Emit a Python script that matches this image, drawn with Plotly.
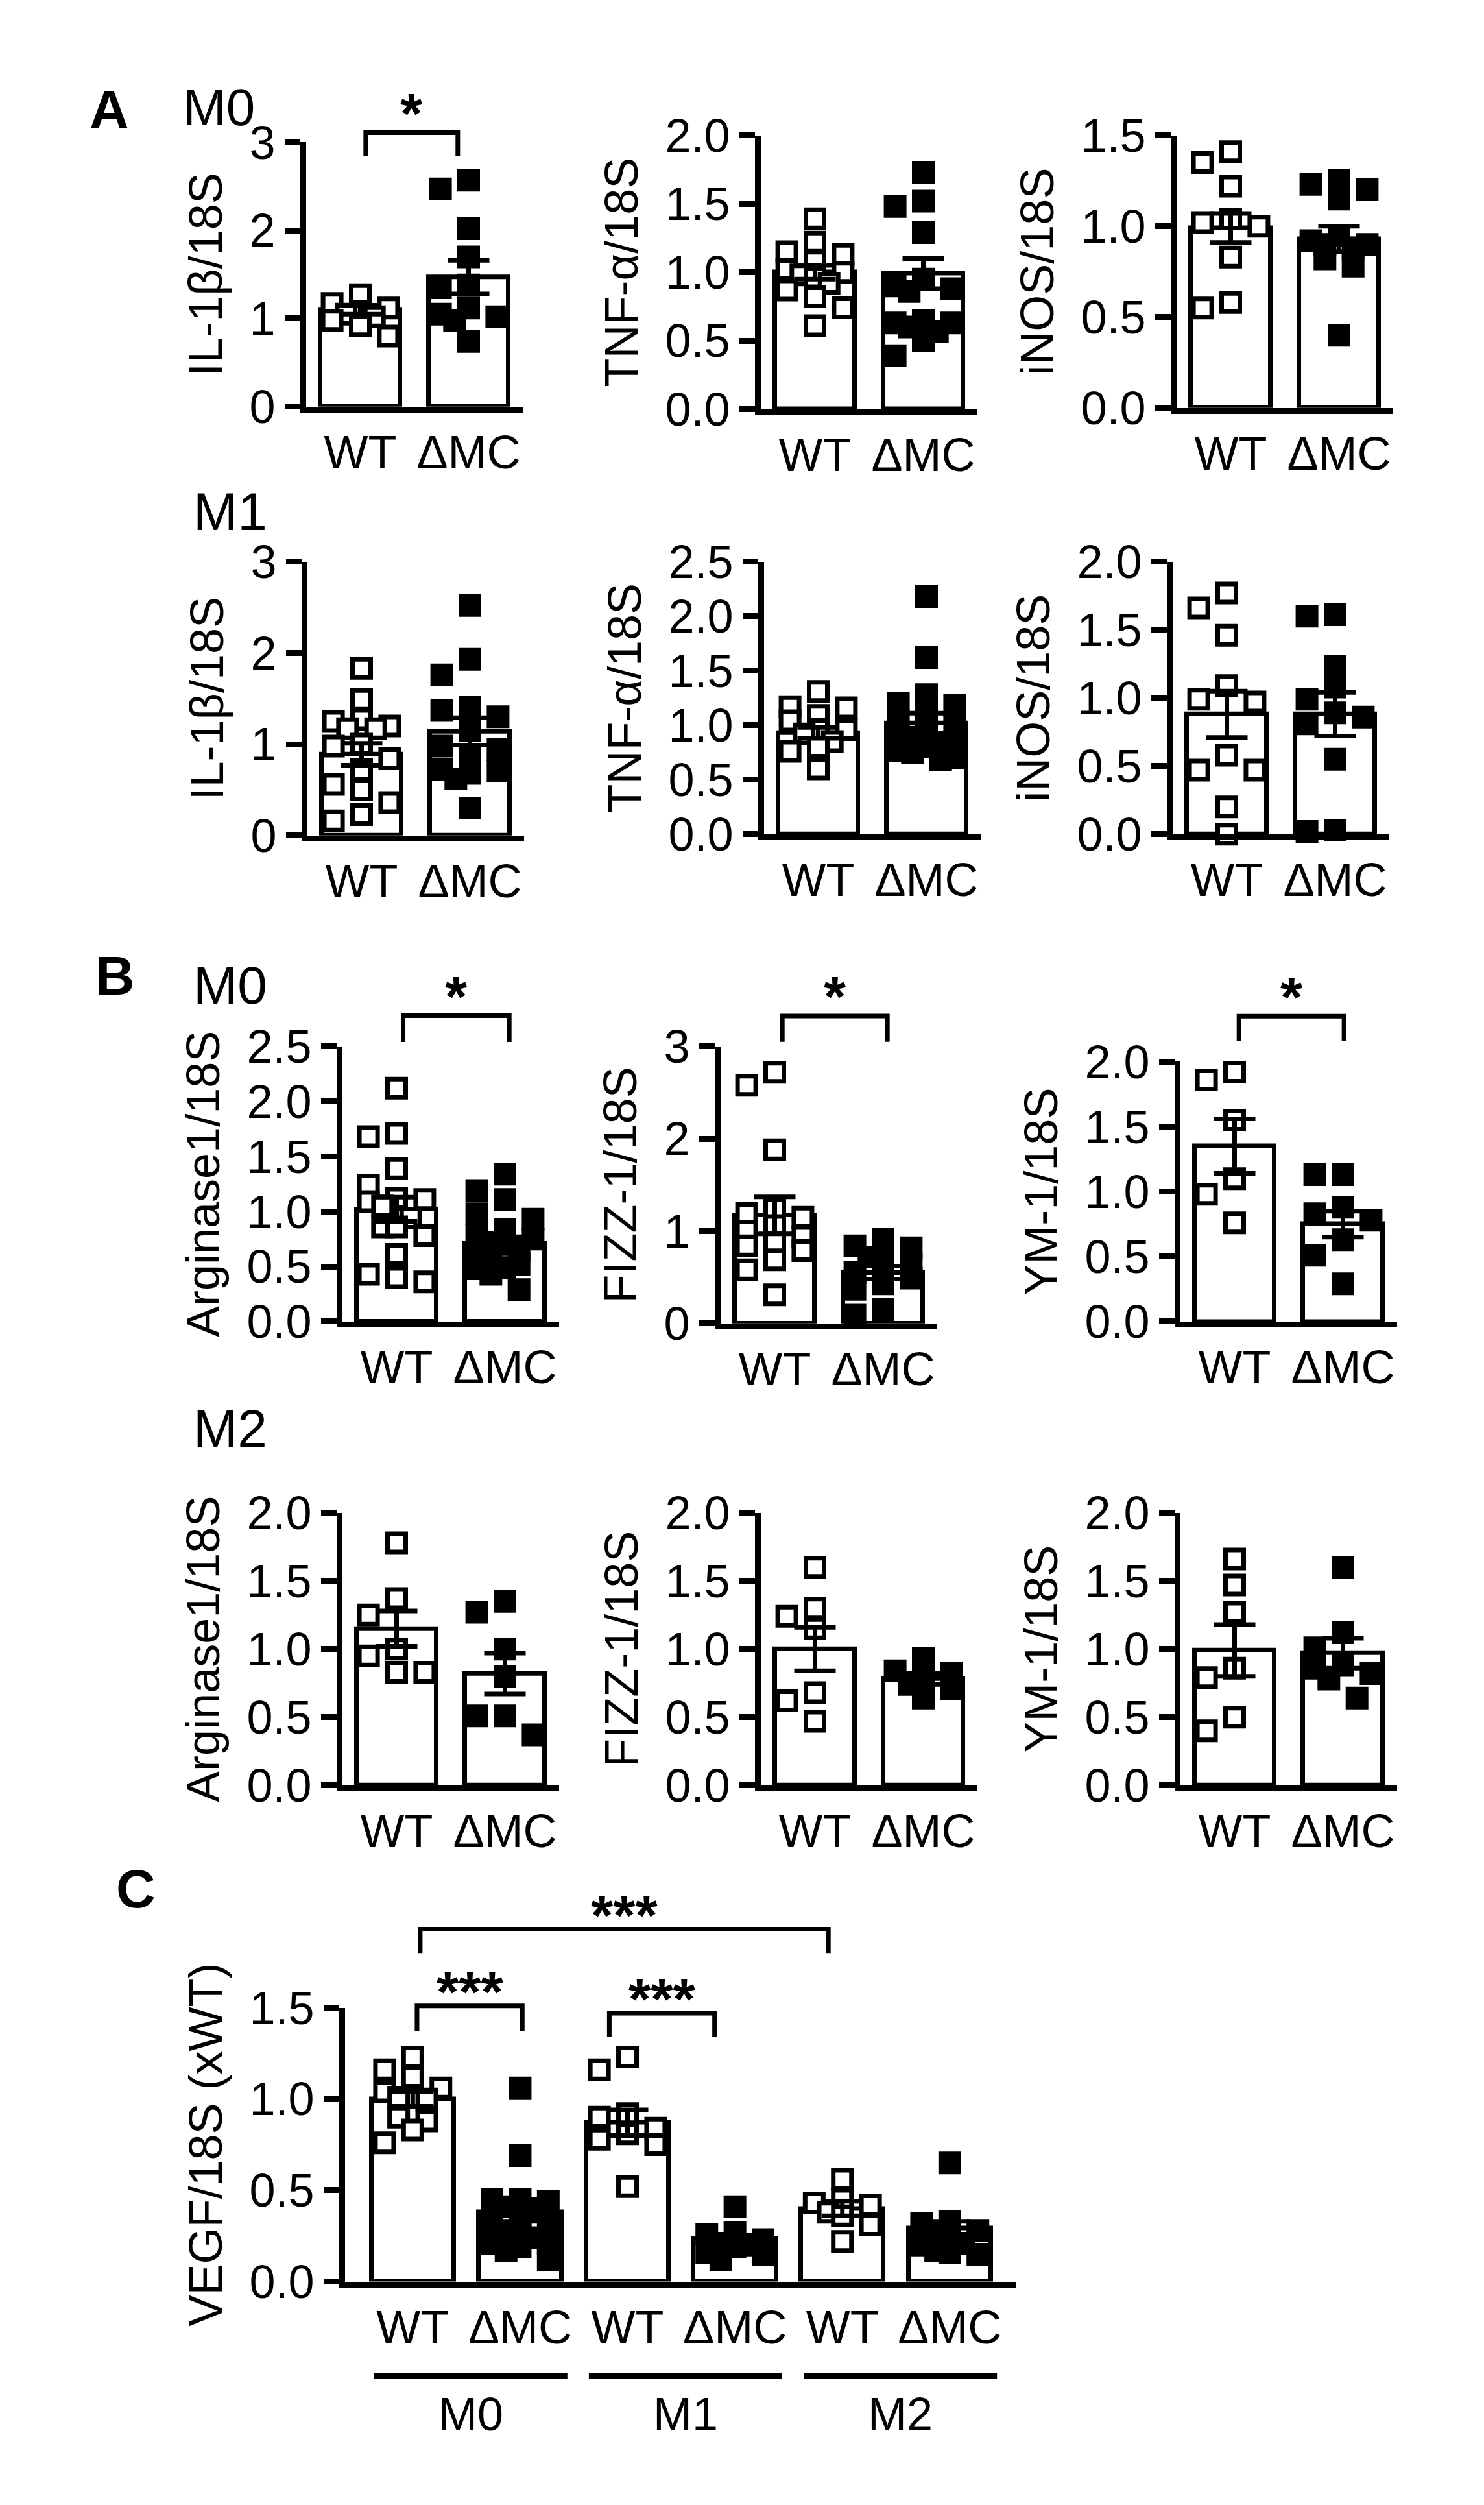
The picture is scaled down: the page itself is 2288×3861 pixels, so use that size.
import plotly.graph_objects as go

# ---------------- values ----------------
groups = ['WT', 'ΔMC']
vegf_cats = ['WT', 'ΔMC', 'WT', 'ΔMC', 'WT', 'ΔMC']
vegf_groups = ['M0', 'M1', 'M2']

# A, M0
il1b_m0_wt = [1.27, 1.17, 1.12, 1.08, 1.05, 1.02, 0.98, 0.92, 0.80]
il1b_m0_mc = [2.57, 2.47, 2.02, 1.70, 1.38, 1.35, 1.12, 1.05, 1.02, 0.98, 0.74]
il1b_m0_bar = [1.10, 1.47]
il1b_m0_sem = [0.05, 0.19]
tnf_m0_wt = [1.39, 1.22, 1.15, 1.13, 1.08, 1.02, 1.00, 0.98, 0.96, 0.92, 0.87, 0.82, 0.74, 0.61]
tnf_m0_mc = [1.73, 1.52, 1.48, 1.29, 0.95, 0.90, 0.88, 0.86, 0.65, 0.63, 0.63, 0.60, 0.57, 0.50, 0.39]
tnf_m0_bar = [1.00, 0.99]
tnf_m0_sem = [0.05, 0.11]
inos_m0_wt = [1.41, 1.35, 1.22, 1.04, 1.02, 1.00, 0.83, 0.58, 0.55]
inos_m0_mc = [1.25, 1.23, 1.20, 1.15, 0.95, 0.92, 0.90, 0.90, 0.88, 0.82, 0.78, 0.40]
inos_m0_bar = [0.99, 0.93]
inos_m0_sem = [0.08, 0.07]

# A, M1
il1b_m1_wt = [1.83, 1.49, 1.27, 1.25, 1.20, 1.17, 1.17, 1.00, 0.98, 0.84, 0.72, 0.56, 0.50, 0.36, 0.23, 0.16]
il1b_m1_mc = [2.52, 1.93, 1.76, 1.41, 1.37, 1.30, 1.15, 0.98, 0.94, 0.84, 0.72, 0.71, 0.68, 0.62, 0.30]
il1b_m1_bar = [0.89, 1.14]
il1b_m1_sem = [0.12, 0.15]
tnf_m1_wt = [1.31, 1.17, 1.16, 1.09, 1.04, 0.96, 0.96, 0.92, 0.85, 0.80, 0.76, 0.60]
tnf_m1_mc = [2.18, 1.62, 1.28, 1.20, 1.18, 1.10, 1.04, 0.99, 0.94, 0.90, 0.89, 0.85, 0.82, 0.80, 0.77, 0.75, 0.70, 0.68]
tnf_m1_bar = [0.93, 1.02]
tnf_m1_sem = [0.05, 0.09]
inos_m1_wt = [1.77, 1.66, 1.46, 1.09, 0.99, 0.97, 0.58, 0.47, 0.47, 0.20, 0.00]
inos_m1_mc = [1.61, 1.60, 1.23, 1.08, 0.99, 0.89, 0.86, 0.81, 0.55, 0.03, 0.02]
inos_m1_bar = [0.88, 0.88]
inos_m1_sem = [0.17, 0.16]

# B, M0
arg_m0_wt = [2.12, 1.71, 1.68, 1.39, 1.24, 1.12, 1.11, 1.09, 1.05, 0.94, 0.86, 0.86, 0.78, 0.61, 0.43, 0.40, 0.36]
arg_m0_mc = [1.34, 1.19, 1.11, 0.98, 0.93, 0.84, 0.78, 0.75, 0.72, 0.70, 0.65, 0.62, 0.58, 0.52, 0.49, 0.48, 0.43, 0.29]
arg_m0_bar = [1.02, 0.71]
arg_m0_sem = [0.11, 0.06]
fizz_m0_wt = [2.72, 2.58, 1.88, 1.24, 1.19, 1.15, 1.06, 1.00, 0.94, 0.88, 0.84, 0.79, 0.69, 0.58, 0.31]
fizz_m0_mc = [0.91, 0.84, 0.82, 0.76, 0.72, 0.64, 0.61, 0.55, 0.49, 0.43, 0.37, 0.15, 0.09]
fizz_m0_bar = [1.17, 0.55]
fizz_m0_sem = [0.20, 0.07]
ym_m0_wt = [1.92, 1.86, 1.55, 1.10, 0.98, 0.76]
ym_m0_mc = [1.13, 1.13, 0.88, 0.83, 0.78, 0.63, 0.51, 0.29]
ym_m0_bar = [1.35, 0.75]
ym_m0_sem = [0.21, 0.10]

# B, M2
arg_m2_wt = [1.78, 1.37, 1.25, 1.00, 0.95, 0.83, 0.83]
arg_m2_mc = [1.35, 1.27, 1.00, 0.80, 0.51, 0.51, 0.37]
arg_m2_bar = [1.15, 0.82]
arg_m2_sem = [0.13, 0.15]
fizz_m2_wt = [1.60, 1.30, 1.24, 1.15, 0.68, 0.62, 0.47]
fizz_m2_mc = [0.93, 0.84, 0.82, 0.77, 0.74, 0.71, 0.64]
fizz_m2_bar = [1.00, 0.78]
fizz_m2_sem = [0.16, 0.04]
ym_m2_wt = [1.66, 1.47, 1.27, 0.86, 0.79, 0.50, 0.40]
ym_m2_mc = [1.60, 1.12, 1.01, 0.88, 0.86, 0.82, 0.78, 0.64]
ym_m2_bar = [0.99, 0.97]
ym_m2_sem = [0.19, 0.11]

# C, VEGF
vegf_m0_wt = [1.23, 1.16, 1.12, 1.06, 1.04, 1.01, 1.00, 1.01, 0.90, 0.88, 0.83, 0.76]
vegf_m0_mc = [1.06, 0.69, 0.45, 0.45, 0.44, 0.41, 0.40, 0.36, 0.33, 0.31, 0.28, 0.26, 0.24, 0.21, 0.21, 0.19, 0.17, 0.12]
vegf_m1_wt = [1.23, 1.16, 0.92, 0.90, 0.84, 0.81, 0.78, 0.75, 0.52]
vegf_m1_mc = [0.41, 0.27, 0.26, 0.23, 0.21, 0.20, 0.19, 0.16, 0.15, 0.12]
vegf_m2_wt = [0.56, 0.45, 0.43, 0.42, 0.38, 0.36, 0.31, 0.22]
vegf_m2_mc = [0.65, 0.33, 0.32, 0.28, 0.27, 0.24, 0.21, 0.20, 0.17, 0.16, 0.15]
vegf_bar = [1.00, 0.38, 0.87, 0.235, 0.40, 0.29]
vegf_sem = [0.04, 0.05, 0.07, 0.02, 0.04, 0.04]

# ---------------- layout helpers ----------------
W, H = 2288, 3861
FONT = 'Liberation Sans, Arial, sans-serif'
LW = 7          # bar / error bar / bracket strokes
AXW = 9         # axis line width
MS = 35         # marker outer size in px


def swarm(vals, ppu_y, ppu_x, size=MS):
    # spread points sideways so they don't sit on top of each other
    order = sorted(range(len(vals)), key=lambda i: -vals[i])
    placed, offs = [], [0.0] * len(vals)
    step = 0.62 * size
    for i in order:
        y = vals[i] * ppu_y
        best, best_d = 0.0, -1
        for k in (0, -1, 1, -2, 2):
            x = k * step
            d = min([max(abs(x - a), abs(y - b)) for a, b in placed] or [1e9])
            if d >= 0.9 * size:
                best = x
                break
            if d > best_d:
                best, best_d = x, d
        placed.append((best, y))
        offs[i] = best / ppu_x
    return offs


open_sq = dict(symbol='square', size=MS - LW, color='white', line=dict(color='black', width=LW))
fill_sq = dict(symbol='square', size=MS, color='black', line=dict(width=0))

fig = go.Figure()
shapes, annotations = [], []


def bracket(x0, x1, y_top, y_leg, star, star_gap, nstar):
    shapes.append(dict(type='path', xref='paper', yref='paper',
                       path='M {} {} L {} {} L {} {} L {} {}'.format(
                           x0 / W, 1 - y_leg / H, x0 / W, 1 - y_top / H,
                           x1 / W, 1 - y_top / H, x1 / W, 1 - y_leg / H),
                       line=dict(color='black', width=LW)))
    cx = (x0 + x1) / 2
    cy = y_top - star_gap + 0.22 * 88
    annotations.append(dict(x=cx / W, y=1 - cy / H, xref='paper', yref='paper', text=star * nstar,
                            showarrow=False, font=dict(size=88, family=FONT, color='black', weight='bold'),
                            xanchor='center', yanchor='middle'))


def add_axes(n, left, width, top, bottom, xr, ymax, dtick, fmt, title, tickvals, ticktext):
    sfx = '' if n == 1 else str(n)
    fig.layout['xaxis' + sfx] = dict(
        domain=[left / W, (left + width) / W], range=xr, anchor='y' + sfx,
        showline=True, linewidth=AXW, linecolor='black', ticks='', showgrid=False, zeroline=False,
        tickmode='array', tickvals=tickvals, ticktext=ticktext, ticklabelstandoff=0,
        tickfont=dict(size=72, family=FONT, color='black'))
    fig.layout['yaxis' + sfx] = dict(
        domain=[1 - bottom / H, 1 - top / H], range=[0, ymax], anchor='x' + sfx,
        showline=True, linewidth=AXW, linecolor='black', ticks='outside', ticklen=24,
        tickwidth=AXW, tickcolor='black', showgrid=False, zeroline=False,
        tickmode='linear', tick0=0, dtick=dtick, tickformat=fmt,
        tickfont=dict(size=72, family=FONT, color='black'),
        title=dict(text=title, standoff=22, font=dict(size=72, family=FONT, color='black')))


# small panels: (wt, mc, bar, sem, title, ymax, dtick, fmt, left, top, bottom, bracket)
small = [
    (il1b_m0_wt, il1b_m0_mc, il1b_m0_bar, il1b_m0_sem, 'IL-1β/18S', 3, 1, 'd', 464, 175, 591, (0.05, 0.90, 3.11, 2.84)),
    (tnf_m0_wt, tnf_m0_mc, tnf_m0_bar, tnf_m0_sem, 'TNF-α/18S', 2.0, 0.5, '.1f', 1165, 164, 595, None),
    (inos_m0_wt, inos_m0_mc, inos_m0_bar, inos_m0_sem, 'iNOS/18S', 1.5, 0.5, '.1f', 1806, 164, 593, None),
    (il1b_m1_wt, il1b_m1_mc, il1b_m1_bar, il1b_m1_sem, 'IL-1β/18S', 3, 1, 'd', 466, 835, 1266, None),
    (tnf_m1_wt, tnf_m1_mc, tnf_m1_bar, tnf_m1_sem, 'TNF-α/18S', 2.5, 0.5, '.1f', 1170, 835, 1264, None),
    (inos_m1_wt, inos_m1_mc, inos_m1_bar, inos_m1_sem, 'iNOS/18S', 2.0, 0.5, '.1f', 1800, 835, 1264, None),
    (arg_m0_wt, arg_m0_mc, arg_m0_bar, arg_m0_sem, 'Arginase1/18S', 2.5, 0.5, '.1f', 520, 1598, 2031, (0.06, 1.04, 2.78, 2.54)),
    (fizz_m0_wt, fizz_m0_mc, fizz_m0_bar, fizz_m0_sem, 'FIZZ-1/18S', 3, 1, 'd', 1103, 1598, 2034, (0.07, 1.04, 3.33, 3.05)),
    (ym_m0_wt, ym_m0_mc, ym_m0_bar, ym_m0_sem, 'YM-1/18S', 2.0, 0.5, '.1f', 1812, 1622, 2031, (0.04, 1.01, 2.35, 2.16)),
    (arg_m2_wt, arg_m2_mc, arg_m2_bar, arg_m2_sem, 'Arginase1/18S', 2.0, 0.5, '.1f', 520, 2332, 2761, None),
    (fizz_m2_wt, fizz_m2_mc, fizz_m2_bar, fizz_m2_sem, 'FIZZ-1/18S', 2.0, 0.5, '.1f', 1165, 2332, 2761, None),
    (ym_m2_wt, ym_m2_mc, ym_m2_bar, ym_m2_sem, 'YM-1/18S', 2.0, 0.5, '.1f', 1812, 2332, 2761, None),
]

UNIT = 167
XR = [-0.5, 1.5]

for n, (wt, mc, bar, sem, title, ymax, dt, fmt, left, top, bottom, sig) in enumerate(small, start=1):
    xa = 'x' if n == 1 else 'x%d' % n
    ya = 'y' if n == 1 else 'y%d' % n
    ppu = (bottom - top) / ymax
    fig.add_trace(go.Bar(x=[0, 1], y=bar, width=0.74, xaxis=xa, yaxis=ya,
                         marker=dict(color='white', line=dict(color='black', width=LW))))
    for g, (vals, mk) in enumerate([(wt, open_sq), (mc, fill_sq)]):
        offs = swarm(vals, ppu, UNIT)
        fig.add_trace(go.Scatter(x=[g + o for o in offs], y=vals, mode='markers', marker=mk,
                                 cliponaxis=False, xaxis=xa, yaxis=ya))
    fig.add_trace(go.Scatter(x=[0, 1], y=bar, mode='markers', cliponaxis=False, xaxis=xa, yaxis=ya,
                             marker=dict(size=1, color='rgba(0,0,0,0)'),
                             error_y=dict(type='data', array=sem, color='black', thickness=LW, width=32)))
    add_axes(n, left, UNIT * (XR[1] - XR[0]), top, bottom, XR, ymax, dt, fmt, title, [0, 1], groups)
    if sig:
        x0, x1, yt, yl = sig
        bracket(left + (x0 - XR[0]) * UNIT, left + (x1 - XR[0]) * UNIT,
                bottom - yt * ppu, bottom - yl * ppu, '*', 50, 1)

# panel C
CL, CT, CB, CU = 524, 3111, 3542, 165.6
CXR = [-0.63, 5.62]
cppu = (CB - CT) / 1.5
vegf_pts = [vegf_m0_wt, vegf_m0_mc, vegf_m1_wt, vegf_m1_mc, vegf_m2_wt, vegf_m2_mc]
fig.add_trace(go.Bar(x=list(range(6)), y=vegf_bar, width=0.77, xaxis='x13', yaxis='y13',
                     marker=dict(color='white', line=dict(color='black', width=LW))))
for i, vals in enumerate(vegf_pts):
    offs = swarm(vals, cppu, CU)
    fig.add_trace(go.Scatter(x=[i + o for o in offs], y=vals, mode='markers',
                             marker=open_sq if i % 2 == 0 else fill_sq,
                             cliponaxis=False, xaxis='x13', yaxis='y13'))
fig.add_trace(go.Scatter(x=list(range(6)), y=vegf_bar, mode='markers', cliponaxis=False,
                         xaxis='x13', yaxis='y13', marker=dict(size=1, color='rgba(0,0,0,0)'),
                         error_y=dict(type='data', array=vegf_sem, color='black', thickness=LW, width=32)))
add_axes(13, CL, CU * (CXR[1] - CXR[0]), CT, CB, CXR, 1.5, 0.5, '.1f', 'VEGF/18S (xWT)',
         list(range(6)), vegf_cats)
for x0, x1, yt, yl in [(0.04, 1.02, 1.51, 1.37), (1.83, 2.81, 1.47, 1.34), (0.07, 3.87, 1.93, 1.80)]:
    bracket(CL + (x0 - CXR[0]) * CU, CL + (x1 - CXR[0]) * CU, CB - yt * cppu, CB - yl * cppu, '*', 42, 3)

for g, name in enumerate(vegf_groups):
    xa0 = CL + (2 * g - 0.36 - CXR[0]) * CU
    xa1 = CL + (2 * g + 1.44 - CXR[0]) * CU
    shapes.append(dict(type='line', xref='paper', yref='paper', x0=xa0 / W, x1=xa1 / W,
                       y0=1 - 3691 / H, y1=1 - 3691 / H, line=dict(color='black', width=AXW)))
    annotations.append(dict(x=(xa0 + xa1) / 2 / W, y=1 - 3751 / H, xref='paper', yref='paper',
                            text=name, showarrow=False, xanchor='center', yanchor='middle',
                            font=dict(size=72, family=FONT, color='black')))

# panel letters and row labels
for txt, x, y, bold, anchor, size in [
        ('A', 160, 124, True, 'center', 84), ('M0', 272, 120, False, 'left', 80),
        ('M1', 288, 756, False, 'left', 82), ('B', 169, 1487, True, 'center', 84),
        ('M0', 288, 1502, False, 'left', 82), ('M2', 288, 2199, False, 'left', 82),
        ('C', 201, 2924, True, 'center', 84)]:
    annotations.append(dict(x=x / W, y=1 - y / H, xref='paper', yref='paper', text=txt,
                            showarrow=False, xanchor=anchor, yanchor='middle',
                            font=dict(size=size, family=FONT, color='black',
                                      weight='bold' if bold else 'normal')))

fig.update_layout(width=W, height=H, margin=dict(l=0, r=0, t=0, b=0),
                  paper_bgcolor='white', plot_bgcolor='white', showlegend=False,
                  shapes=shapes, annotations=annotations, bargap=0,
                  font=dict(family=FONT, color='black'))

fig.write_html('out.html')
